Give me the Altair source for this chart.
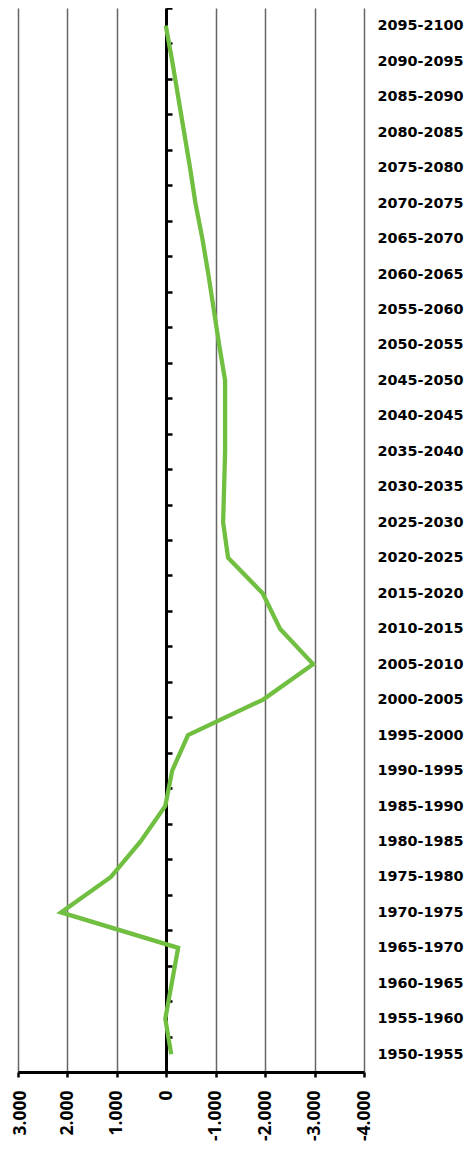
import altair as alt
import pandas as pd

periods = [
    "1950-1955", "1955-1960", "1960-1965", "1965-1970", "1970-1975",
    "1975-1980", "1980-1985", "1985-1990", "1990-1995", "1995-2000",
    "2000-2005", "2005-2010", "2010-2015", "2015-2020", "2020-2025",
    "2025-2030", "2030-2035", "2035-2040", "2040-2045", "2045-2050",
    "2050-2055", "2055-2060", "2060-2065", "2065-2070", "2070-2075",
    "2075-2080", "2080-2085", "2085-2090", "2090-2095", "2095-2100",
]
values = [
    -100, 20, -110, -240, 2130,
    1120, 520, 20, -120, -440,
    -1960, -2970, -2300, -1950, -1250,
    -1150, -1170, -1190, -1190, -1190,
    -1070, -960, -850, -730, -590,
    -480, -360, -240, -120, 10,
]
tick_values = [-4000, -3000, -2000, -1000, 0, 1000, 2000, 3000]

df = pd.DataFrame({"period": periods, "value": values, "idx": list(range(len(periods)))})

chart = alt.Chart(df).mark_line(color="#70BF41", strokeWidth=4.3).encode(
    x=alt.X(
        "value:Q",
        scale=alt.Scale(domain=[-4000, 3000], reverse=True, nice=False, zero=False),
        axis=alt.Axis(
            orient="bottom",
            title=None,
            values=tick_values,
            labelExpr="datum.value == 0 ? '0' : (datum.value / 1000) + '.000'",
            labelAngle=270,
            labelFont="Noto Sans",
            labelFontWeight="bold",
            labelFontSize=17.5,
            labelColor="black",
            labelPadding=13,
            labelOffset={"condition": {"test": "datum.value == 3000", "value": 2}, "value": 0},
            domainColor="black",
            domainWidth=3,
            tickColor="black",
            tickWidth=2.5,
            tickSize=5,
            grid=True,
            gridColor="#666666",
            gridWidth=1.5,
        ),
    ),
    y=alt.Y(
        "period:N",
        sort=periods[::-1],
        scale=alt.Scale(type="band", paddingInner=0, paddingOuter=0),
        bandPosition=0.5,
        axis=alt.Axis(
            orient="right",
            offset=-198,
            title=None,
            grid=False,
            tickBand="extent",
            labelFont="DejaVu Sans",
            labelFontWeight="bold",
            labelFontSize=14.4,
            labelColor="black",
            labelPadding=205,
            labelOverlap=False,
            domainColor="black",
            domainWidth=3,
            tickColor="black",
            tickWidth=2.5,
            tickSize=6,
        ),
    ),
    order=alt.Order("idx:Q"),
).properties(
    width=346,
    height=1064,
    autosize="none",
    padding={"left": 10, "top": 0, "right": 103, "bottom": 69},
).configure_view(stroke=None)

chart.save("out.html", embed_options={"renderer": "svg", "actions": False})
